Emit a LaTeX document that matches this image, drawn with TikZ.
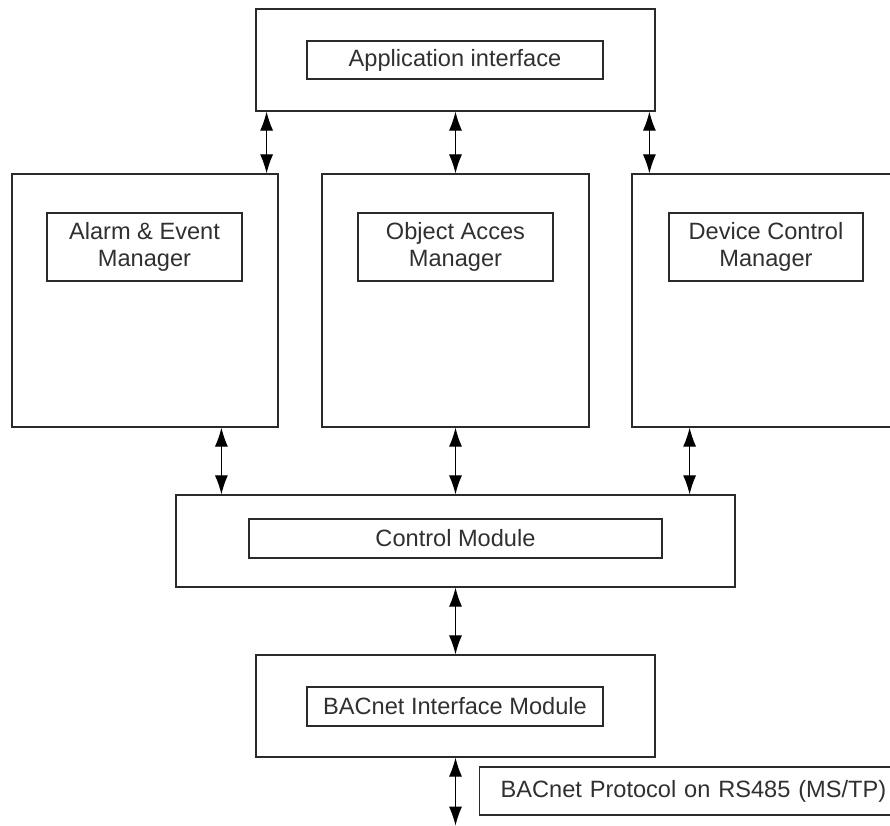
\documentclass[tikz,border=0pt]{standalone}
\usepackage{fontspec}
\setmainfont{Liberation Sans}
\usetikzlibrary{arrows.meta,calc}
\definecolor{ln}{HTML}{2A2A2A}
\definecolor{tx}{HTML}{303030}
\begin{document}
\begin{tikzpicture}[x=1pt,y=-1pt,
  box/.style={draw=ln,line width=1.2pt,inner sep=0pt,fill=none},
  inbox/.style={draw=ln,line width=1.2pt,inner sep=0pt,align=center,text=tx,
    font=\fontsize{23.6}{27}\selectfont},
  arr/.style={draw=black,line width=1.1pt,{Latex[length=19pt,width=13pt]}-{Latex[length=19pt,width=13pt]}}]
\useasboundingbox (0,0) rectangle (890,825);
\begin{scope}
\clip (0,0) rectangle (890,825);
% outer boxes
\node[box,minimum width=399pt,minimum height=102pt] (top) at (455.5,60) {};
\node[box,minimum width=266pt,minimum height=253pt] (left) at (145,300.5) {};
\node[box,minimum width=267pt,minimum height=253pt] (mid) at (455.5,300.5) {};
\node[box,minimum width=278pt,minimum height=253pt] (right) at (771,300.5) {};
\node[box,minimum width=559pt,minimum height=92pt] (ctrl) at (455.5,541) {};
\node[box,minimum width=399pt,minimum height=102pt] (bac) at (455.5,706) {};
% inner boxes
\node[inbox,minimum width=296pt,minimum height=38pt] (app) at (455,60) {Application interface};
\node[inbox,minimum width=195pt,minimum height=68pt] (alarm) at (144.5,247) {Alarm \& Event\\Manager};
\node[inbox,minimum width=195pt,minimum height=68pt] (obj) at (455.5,247) {Object Acces\\Manager};
\node[inbox,minimum width=194pt,minimum height=68pt] (dev) at (766,247) {Device Control\\Manager};
\node[inbox,minimum width=413pt,minimum height=39pt] (ctrlin) at (455.5,538.5) {Control Module};
\node[inbox,minimum width=296pt,minimum height=39pt] (bacin) at (455,706.5) {BACnet Interface Module};
% label box (open at right edge)
\node[inbox,anchor=west,minimum height=48pt,inner xsep=21pt,text width=400pt,align=left] (proto) at (479,791) {BACnet Protocol on RS485 (MS/TP)};
% connector points
\coordinate (a1) at ([xshift=-12pt]left.north east);
\coordinate (a3) at ([xshift=18pt]right.north west);
\coordinate (b1) at ([xshift=46pt]ctrl.north west);
\coordinate (b3) at ([xshift=-46pt]ctrl.north east);
\coordinate (bus) at ([yshift=-68pt]bac.south);
% arrows
\draw[arr] (top.south -| a1) -- (a1);
\draw[arr] (top.south -| mid.north) -- (mid.north);
\draw[arr] (top.south -| a3) -- (a3);
\draw[arr] (left.south -| b1) -- (b1);
\draw[arr] (mid.south) -- (ctrl.north -| mid.south);
\draw[arr] (right.south -| b3) -- (b3);
\draw[arr] (ctrl.south) -- (bac.north);
\draw[arr] (bac.south) -- (bus);
\end{scope}
\end{tikzpicture}
\end{document}
